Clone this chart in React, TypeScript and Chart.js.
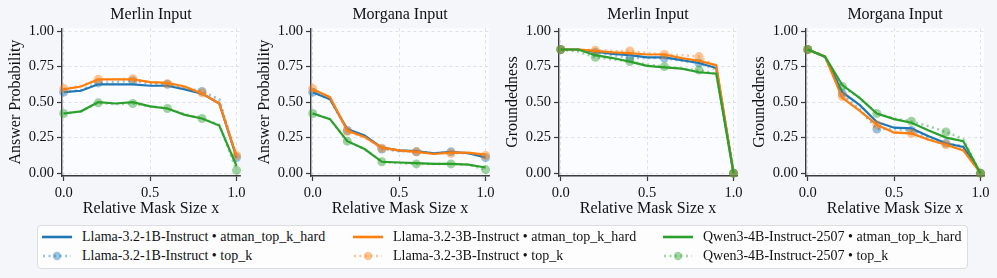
import React, { useEffect, useRef } from "react";
import { Chart, registerables } from "chart.js";
Chart.register(...registerables);

// ---------- data ----------
const MASK_X = [0, 0.1, 0.2, 0.3, 0.4, 0.5, 0.6, 0.7, 0.8, 0.9, 1.0];
const X_TICKS = [0, 0.5, 1.0];
const Y_TICKS = [0, 0.25, 0.5, 0.75, 1.0];

const MODELS = ["Llama-3.2-1B-Instruct", "Llama-3.2-3B-Instruct", "Qwen3-4B-Instruct-2507"];
const METHODS = ["atman_top_k_hard", "top_k"];
const PANEL_TITLES = ["Merlin Input", "Morgana Input", "Merlin Input", "Morgana Input"];
const PANEL_YLABELS = ["Answer Probability", "Answer Probability", "Groundedness", "Groundedness"];

// Panel 1: Merlin / Answer Probability
const MERLIN_AP_1B_HARD = [0.57, 0.58, 0.625, 0.625, 0.625, 0.615, 0.615, 0.59, 0.56, 0.49, 0.11];
const MERLIN_AP_3B_HARD = [0.59, 0.61, 0.66, 0.66, 0.66, 0.64, 0.635, 0.61, 0.56, 0.49, 0.12];
const MERLIN_AP_QW_HARD = [0.42, 0.435, 0.5, 0.49, 0.5, 0.47, 0.455, 0.41, 0.385, 0.335, 0.05];
const MERLIN_AP_1B_TOPK = [0.57, 0.585, 0.635, 0.64, 0.65, 0.63, 0.625, 0.6, 0.575, 0.52, 0.11];
const MERLIN_AP_3B_TOPK = [0.595, 0.615, 0.66, 0.66, 0.665, 0.64, 0.63, 0.6, 0.565, 0.5, 0.125];
const MERLIN_AP_QW_TOPK = [0.42, 0.435, 0.495, 0.485, 0.49, 0.47, 0.455, 0.415, 0.385, 0.34, 0.02];

// Panel 2: Morgana / Answer Probability
const MORGANA_AP_1B_HARD = [0.57, 0.52, 0.31, 0.265, 0.18, 0.16, 0.155, 0.14, 0.15, 0.14, 0.11];
const MORGANA_AP_3B_HARD = [0.59, 0.535, 0.3, 0.255, 0.18, 0.16, 0.15, 0.135, 0.145, 0.145, 0.13];
const MORGANA_AP_QW_HARD = [0.42, 0.38, 0.225, 0.17, 0.08, 0.075, 0.07, 0.065, 0.065, 0.06, 0.04];
const MORGANA_AP_1B_TOPK = [0.57, 0.52, 0.3, 0.26, 0.17, 0.155, 0.15, 0.14, 0.15, 0.14, 0.11];
const MORGANA_AP_3B_TOPK = [0.595, 0.53, 0.295, 0.25, 0.175, 0.155, 0.15, 0.14, 0.14, 0.14, 0.125];
const MORGANA_AP_QW_TOPK = [0.42, 0.38, 0.225, 0.17, 0.08, 0.07, 0.065, 0.065, 0.065, 0.06, 0.025];

// Panel 3: Merlin / Groundedness
const MERLIN_G_1B_HARD = [0.87, 0.87, 0.855, 0.84, 0.83, 0.815, 0.815, 0.795, 0.775, 0.74, 0];
const MERLIN_G_3B_HARD = [0.87, 0.87, 0.86, 0.85, 0.845, 0.835, 0.835, 0.81, 0.79, 0.76, 0];
const MERLIN_G_QW_HARD = [0.87, 0.87, 0.83, 0.81, 0.785, 0.755, 0.745, 0.735, 0.71, 0.7, 0];
const MERLIN_G_1B_TOPK = [0.87, 0.865, 0.85, 0.83, 0.81, 0.81, 0.81, 0.79, 0.775, 0.73, 0];
const MERLIN_G_3B_TOPK = [0.87, 0.87, 0.865, 0.86, 0.86, 0.845, 0.835, 0.83, 0.82, 0.75, 0];
const MERLIN_G_QW_TOPK = [0.87, 0.855, 0.815, 0.8, 0.785, 0.765, 0.75, 0.735, 0.725, 0.7, 0];

// Panel 4: Morgana / Groundedness
const MORGANA_G_1B_HARD = [0.87, 0.82, 0.57, 0.48, 0.36, 0.32, 0.315, 0.26, 0.21, 0.185, 0];
const MORGANA_G_3B_HARD = [0.87, 0.82, 0.53, 0.44, 0.34, 0.285, 0.28, 0.235, 0.2, 0.16, 0];
const MORGANA_G_QW_HARD = [0.87, 0.82, 0.62, 0.53, 0.42, 0.38, 0.355, 0.3, 0.25, 0.225, 0];
const MORGANA_G_1B_TOPK = [0.87, 0.82, 0.56, 0.45, 0.31, 0.31, 0.3, 0.25, 0.21, 0.19, 0];
const MORGANA_G_3B_TOPK = [0.87, 0.82, 0.54, 0.44, 0.34, 0.29, 0.28, 0.235, 0.2, 0.165, 0];
const MORGANA_G_QW_TOPK = [0.87, 0.82, 0.61, 0.53, 0.42, 0.385, 0.365, 0.33, 0.29, 0.24, 0];

const PANEL_SERIES = [
  [[MERLIN_AP_1B_HARD, MERLIN_AP_1B_TOPK], [MERLIN_AP_3B_HARD, MERLIN_AP_3B_TOPK], [MERLIN_AP_QW_HARD, MERLIN_AP_QW_TOPK]],
  [[MORGANA_AP_1B_HARD, MORGANA_AP_1B_TOPK], [MORGANA_AP_3B_HARD, MORGANA_AP_3B_TOPK], [MORGANA_AP_QW_HARD, MORGANA_AP_QW_TOPK]],
  [[MERLIN_G_1B_HARD, MERLIN_G_1B_TOPK], [MERLIN_G_3B_HARD, MERLIN_G_3B_TOPK], [MERLIN_G_QW_HARD, MERLIN_G_QW_TOPK]],
  [[MORGANA_G_1B_HARD, MORGANA_G_1B_TOPK], [MORGANA_G_3B_HARD, MORGANA_G_3B_TOPK], [MORGANA_G_QW_HARD, MORGANA_G_QW_TOPK]],
];

// ---------- style ----------
const COLORS = ["31,119,180", "255,127,14", "44,160,44"];
const FONT = "'Liberation Serif', 'Times New Roman', serif";
const PAGE_BG = "#f5f6fa";
const AXES_BG = "#fbfcff";
const SPINE = "#3a3a3a";
const CHART_LEFTS = [62, 311, 559, 806];
const Y_AXIS_W = 60;
const CHART_W = 178;
const PAD_R = 20;
const CANVAS_H = 220;

const faceBg = {
  id: "faceBg",
  beforeDraw(chart: any) {
    const { ctx, chartArea } = chart;
    if (!chartArea) return;
    ctx.save();
    ctx.fillStyle = AXES_BG;
    ctx.fillRect(chartArea.left, chartArea.top, chartArea.right - chartArea.left, chartArea.bottom - chartArea.top);
    ctx.restore();
  },
};

function buildDatasets(panel: number) {
  const ds: any[] = [];
  // matplotlib draw order: 1B hard,1B topk,3B hard,3B topk,Qwen hard,Qwen topk (last on top)
  // Chart.js draws dataset 0 on top, so reverse.
  for (let m = 2; m >= 0; m--) {
    const [hard, topk] = PANEL_SERIES[panel][m];
    const c = COLORS[m];
    ds.push({
      label: `${MODELS[m]} • ${METHODS[1]}`,
      data: MASK_X.map((x, i) => ({ x, y: topk[i] })),
      borderColor: `rgba(${c},0.45)`,
      backgroundColor: `rgba(${c},0.45)`,
      borderWidth: 2.5,
      borderDash: [2, 3.5],
      pointRadius: MASK_X.map((_, i) => (i % 2 === 0 ? 4.5 : 0)),
      pointBorderWidth: 0,
      pointHoverRadius: 0,
      tension: 0,
      clip: false,
    });
    ds.push({
      label: `${MODELS[m]} • ${METHODS[0]}`,
      data: MASK_X.map((x, i) => ({ x, y: hard[i] })),
      borderColor: `rgb(${c})`,
      backgroundColor: `rgb(${c})`,
      borderWidth: 2.2,
      pointRadius: 0,
      tension: 0,
      clip: false,
    });
  }
  return ds;
}

function Panel({ idx }: { idx: number }) {
  const ref = useRef<HTMLCanvasElement>(null);
  useEffect(() => {
    if (!ref.current) return;
    const chart = new Chart(ref.current, {
      type: "line",
      data: { datasets: buildDatasets(idx) },
      plugins: [faceBg],
      options: {
        animation: false,
        responsive: false,
        maintainAspectRatio: false,
        layout: { padding: { left: 0, right: PAD_R, top: 0, bottom: 0 } },
        plugins: {
          legend: { display: false },
          tooltip: { enabled: false },
          title: {
            display: true,
            fullSize: false,
            text: PANEL_TITLES[idx],
            color: "#111",
            font: { family: FONT, size: 16, weight: "normal" },
            padding: { top: 5.5, bottom: 3.5 },
          },
        },
        scales: {
          x: {
            type: "linear",
            min: -0.01,
            max: 1.02,
            afterBuildTicks: (s: any) => {
              s.ticks = X_TICKS.map((v) => ({ value: v }));
            },
            afterFit: (s: any) => {
              s.height = CANVAS_H - 176;
            },
            ticks: {
              autoSkip: false,
              maxRotation: 0,
              padding: 3,
              color: "#111",
              font: { family: FONT, size: 14.5 },
              callback: (v: any) => Number(v).toFixed(1),
            },
            grid: {
              color: "#d6d8dd",
              lineWidth: 0.8,
              tickColor: SPINE,
              tickLength: 5,
              tickWidth: 1.2,
            },
            border: { display: true, color: SPINE, width: 1.4, dash: [3, 3] },
            title: {
              display: true,
              text: "Relative Mask Size x",
              color: "#111",
              font: { family: FONT, size: 16 },
              padding: { top: 0, bottom: 2 },
            },
          },
          y: {
            type: "linear",
            min: -0.02,
            max: 1.02,
            afterBuildTicks: (s: any) => {
              s.ticks = Y_TICKS.map((v) => ({ value: v }));
            },
            afterFit: (s: any) => {
              s.width = Y_AXIS_W;
            },
            ticks: {
              autoSkip: false,
              padding: 3,
              color: "#111",
              font: { family: FONT, size: 14.5 },
              callback: (v: any) => Number(v).toFixed(2),
            },
            grid: {
              color: "#d6d8dd",
              lineWidth: 0.8,
              tickColor: SPINE,
              tickLength: 5,
              tickWidth: 1.2,
            },
            border: { display: true, color: SPINE, width: 1.4, dash: [3, 3] },
            title: {
              display: true,
              text: PANEL_YLABELS[idx],
              color: "#111",
              font: { family: FONT, size: 16 },
              padding: { top: 4.5, bottom: 0 },
            },
          },
        },
      } as any,
    });
    return () => chart.destroy();
  }, [idx]);
  const left = CHART_LEFTS[idx] - Y_AXIS_W;
  const w = Y_AXIS_W + CHART_W + PAD_R;
  return (
    <canvas
      ref={ref}
      width={w}
      height={CANVAS_H}
      style={{ position: "absolute", left, top: 0, width: w, height: CANVAS_H }}
    />
  );
}

function LegendSample({ color, dotted }: { color: string; dotted: boolean }) {
  return (
    <svg width={30} height={12} style={{ position: "absolute", left: 0, top: -6 }}>
      {dotted ? (
        <g>
          <line x1={1} y1={6} x2={29} y2={6} stroke={`rgba(${color},0.45)`} strokeWidth={2.5} strokeDasharray="2 3.5" />
          <circle cx={15} cy={6} r={4.2} fill={`rgba(${color},0.45)`} />
        </g>
      ) : (
        <line x1={0} y1={6} x2={30} y2={6} stroke={`rgb(${color})`} strokeWidth={2.6} />
      )}
    </svg>
  );
}

function Legend() {
  const colX = [42, 353, 663];
  const rowY = [237, 256];
  const items: any[] = [];
  MODELS.forEach((m, mi) => {
    METHODS.forEach((meth, ri) => {
      items.push(
        <div key={`${mi}-${ri}`} style={{ position: "absolute", left: colX[mi], top: rowY[ri] }}>
          <LegendSample color={COLORS[mi]} dotted={ri === 1} />
          <span
            style={{
              position: "absolute",
              left: 40,
              top: -10,
              whiteSpace: "nowrap",
              fontFamily: FONT,
              fontSize: 14,
              lineHeight: "20px",
              color: "#111",
            }}
          >
            {`${m} • ${meth}`}
          </span>
        </div>
      );
    });
  });
  return (
    <>
      <div
        style={{
          position: "absolute",
          left: 37,
          top: 225,
          width: 931,
          height: 44,
          boxSizing: "border-box",
          border: "1px solid #dcdde2",
          borderRadius: 4,
          background: "#fdfdfe",
        }}
      />
      {items}
    </>
  );
}

export default function App() {
  return (
    <div
      style={{
        position: "absolute",
        left: 0,
        top: 0,
        width: 997,
        height: 278,
        background: PAGE_BG,
        overflow: "hidden",
      }}
    >
      {[0, 1, 2, 3].map((i) => (
        <Panel key={i} idx={i} />
      ))}
      <Legend />
    </div>
  );
}
